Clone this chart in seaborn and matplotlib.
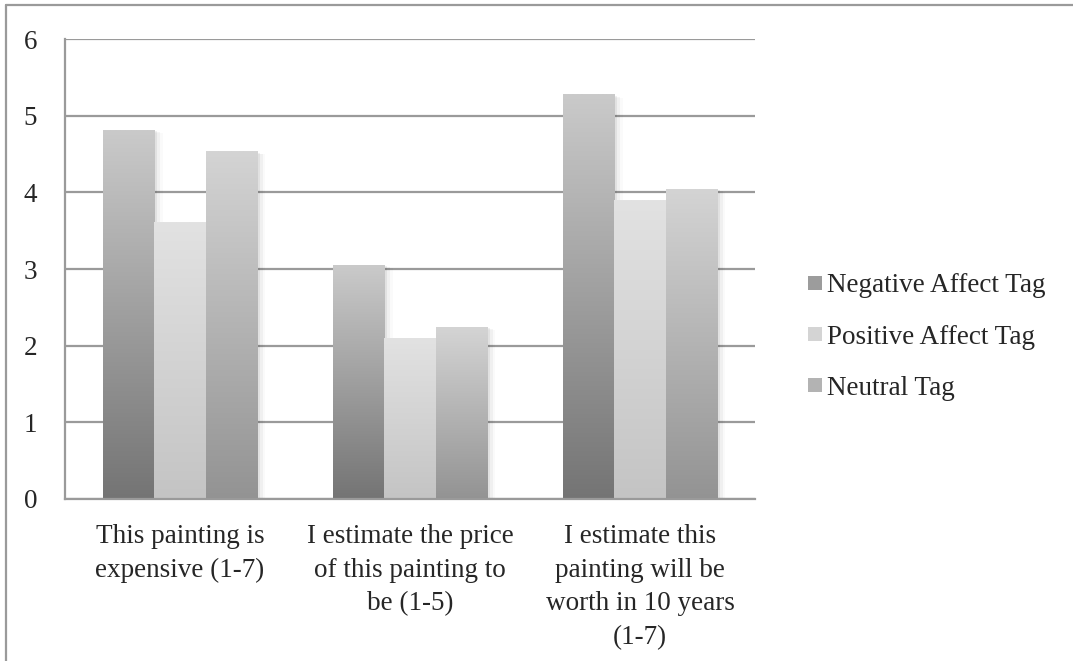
import numpy as np
import pandas as pd
import matplotlib
matplotlib.use("Agg")
import matplotlib.pyplot as plt
import matplotlib.colors as mcolors
from matplotlib.lines import Line2D
from matplotlib.patches import Rectangle
import seaborn as sns

# Survey questions (x-axis categories)
questions = [
    "This painting is\nexpensive (1-7)",
    "I estimate the price\nof this painting to\nbe (1-5)",
    "I estimate this\npainting will be\nworth in 10 years\n(1-7)",
]
conditions = ["Negative Affect Tag", "Positive Affect Tag", "Neutral Tag"]

# Mean ratings per condition
negative_scores = [4.81, 3.05, 5.27]
positive_scores = [3.61, 2.09, 3.89]
neutral_scores = [4.53, 2.24, 4.04]

# Bottom/top shades of each condition's vertical gradient
grad_bottom = {"Negative Affect Tag": "#747474",
               "Positive Affect Tag": "#c4c4c4",
               "Neutral Tag": "#939393"}
grad_top = {"Negative Affect Tag": "#cacaca",
            "Positive Affect Tag": "#e2e2e2",
            "Neutral Tag": "#d4d4d4"}
mid_colors = {"Negative Affect Tag": "#9c9c9c",
              "Positive Affect Tag": "#d4d4d4",
              "Neutral Tag": "#b3b3b3"}

rows = []
for q, a, b, c in zip(questions, negative_scores, positive_scores, neutral_scores):
    rows.append((q, conditions[0], a))
    rows.append((q, conditions[1], b))
    rows.append((q, conditions[2], c))
df = pd.DataFrame(rows, columns=["question", "condition", "score"])

sns.set_style("white")
plt.rcParams["font.family"] = ["Liberation Serif", "DejaVu Serif"]
FS = 19.5

fig = plt.figure(figsize=(10.73, 6.61), dpi=100)
ax = fig.add_axes([65 / 1073, 1 - 499 / 661, 690 / 1073, 460 / 661])

sns.barplot(data=df, x="question", y="score", hue="condition",
            hue_order=conditions, order=questions, palette=mid_colors,
            width=0.67, ax=ax, legend=False, errorbar=None,
            saturation=1, linewidth=0, zorder=2)

# Replace flat fills with vertical gradients and a soft shadow
ramp = np.linspace(0, 1, 256).reshape(-1, 1)
n_q = len(questions)
for i, patch in enumerate(list(ax.patches)):
    cond = conditions[i // n_q]
    x0, y0 = patch.get_x(), patch.get_y()
    w, h = patch.get_width(), patch.get_height()
    cmap = mcolors.LinearSegmentedColormap.from_list(
        cond, [grad_bottom[cond], grad_top[cond]])
    for k, a in enumerate([0.06, 0.04, 0.02]):
        ax.add_patch(Rectangle((x0 + 0.006 * (k + 1), y0 - 0.012 * (k + 1)),
                               w + 0.006 * (k + 1), h,
                               facecolor="black", alpha=a, linewidth=0,
                               zorder=1.5))
    ax.imshow(ramp, cmap=cmap, origin="lower", aspect="auto",
              extent=(x0, x0 + w, y0, y0 + h), zorder=2.5,
              interpolation="bilinear")
    patch.set_facecolor("none")
ax.set_xlim(-0.5, 2.5)
ax.set_ylim(0, 6)

grid_c = "#9a9a9a"
ax.set_yticks(range(0, 7))
ax.yaxis.grid(True, color=grid_c, linewidth=1.6, zorder=0)
ax.set_axisbelow(True)
ax.set_xticks(range(n_q))
ax.set_xticks([-0.5, 0.5, 1.5, 2.5], minor=True)
ax.tick_params(axis="x", which="major", length=0, pad=18, labelsize=FS)
ax.tick_params(axis="x", which="minor", length=8, width=1.6,
               color=grid_c, direction="out")
ax.tick_params(axis="y", length=8, width=1.6, color=grid_c,
               direction="out", labelsize=FS, pad=12)
for lab in ax.get_xticklabels():
    lab.set_multialignment("center")
    lab.set_linespacing(1.45)
ax.set_xlabel("")
ax.set_ylabel("")
for side in ["top", "right"]:
    ax.spines[side].set_visible(False)
for side in ["left", "bottom"]:
    ax.spines[side].set_color(grid_c)
    ax.spines[side].set_linewidth(1.6)

handles = [Line2D([], [], marker="s", linestyle="none", markersize=9.5,
                  markerfacecolor=mid_colors[c], markeredgewidth=0)
           for c in conditions]
fig.legend(handles, conditions, loc="center left",
           bbox_to_anchor=(796 / 1073, 1 - 337 / 661), frameon=False,
           fontsize=FS, handlelength=0.6, handletextpad=0.15,
           labelspacing=0.97, borderaxespad=0)

# Chart area frame (left and top edges)
fig.add_artist(Line2D([6 / 1073, 6 / 1073], [0, 1 - 5 / 661],
                      transform=fig.transFigure, color="#9a9a9a", lw=1.6))
fig.add_artist(Line2D([6 / 1073, 1], [1 - 5 / 661, 1 - 5 / 661],
                      transform=fig.transFigure, color="#9a9a9a", lw=1.6))

fig.savefig("out.png", dpi=100)
